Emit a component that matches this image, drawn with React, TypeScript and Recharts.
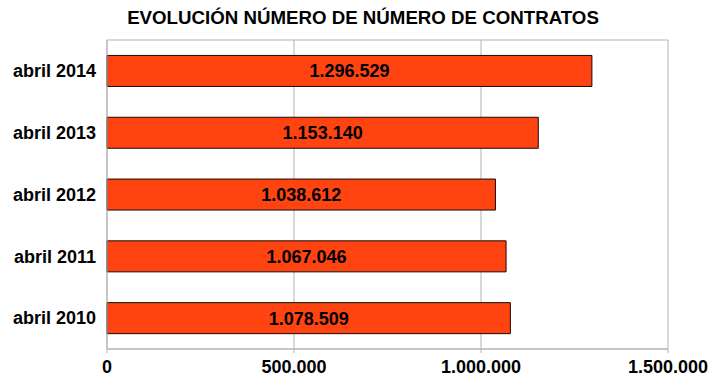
import React from "react";
import { BarChart, Bar, XAxis, YAxis, CartesianGrid, LabelList } from "recharts";

const categories = ["abril 2014", "abril 2013", "abril 2012", "abril 2011", "abril 2010"];
const contratos = [1296529, 1153140, 1038612, 1067046, 1078509];
const xTicks = [0, 500000, 1000000, 1500000];
const title = "EVOLUCIÓN NÚMERO DE NÚMERO DE CONTRATOS";

const data = categories.map((c, i) => ({ name: c, value: contratos[i] }));

const fmt = (v: number) => v.toString().replace(/\B(?=(\d{3})+(?!\d))/g, ".");

const FONT = "'Liberation Sans', Arial, sans-serif";

export default function App() {
  return (
    <div style={{ position: "absolute", left: 0, top: 0, width: 726, height: 383, background: "#fff", fontFamily: FONT }}>
      <div
        style={{
          position: "absolute",
          left: 0,
          top: 7,
          width: 726,
          textAlign: "center",
          fontWeight: "bold",
          fontSize: 18.7,
          color: "#000",
        }}
      >
        {title}
      </div>
      <BarChart
        width={726}
        height={383}
        data={data}
        layout="vertical"
        margin={{ top: 40, right: 58, bottom: 4, left: 7 }}
        barCategoryGap="25%"
      >
        <CartesianGrid
          stroke="#b3b3b3"
          horizontalCoordinatesGenerator={({ offset }: any) => [offset.top, offset.top + offset.height]}
          fill="none"
        />
        <XAxis
          type="number"
          domain={[0, 1500000]}
          ticks={xTicks}
          tickFormatter={fmt}
          height={30}
          axisLine={{ stroke: "#b3b3b3" }}
          tickLine={{ stroke: "#b3b3b3" }}
          tickSize={4}
          tickMargin={7}
          tick={{ fill: "#000", fontSize: 18, fontWeight: "bold", fontFamily: FONT }}
        />
        <YAxis
          type="category"
          dataKey="name"
          width={100}
          axisLine={{ stroke: "#b3b3b3" }}
          tickLine={false}
          tickMargin={5}
          tick={{ fill: "#000", fontSize: 18, fontWeight: "bold", fontFamily: FONT }}
        />
        <Bar dataKey="value" fill="#ff4412" stroke="#1a0800" strokeWidth={1} isAnimationActive={false}>
          <LabelList
            dataKey="value"
            position="center"
            formatter={(v: any) => fmt(Number(v))}
            style={{ fill: "#000", fontSize: 18, fontWeight: "bold", fontFamily: FONT }}
          />
        </Bar>
      </BarChart>
    </div>
  );
}
